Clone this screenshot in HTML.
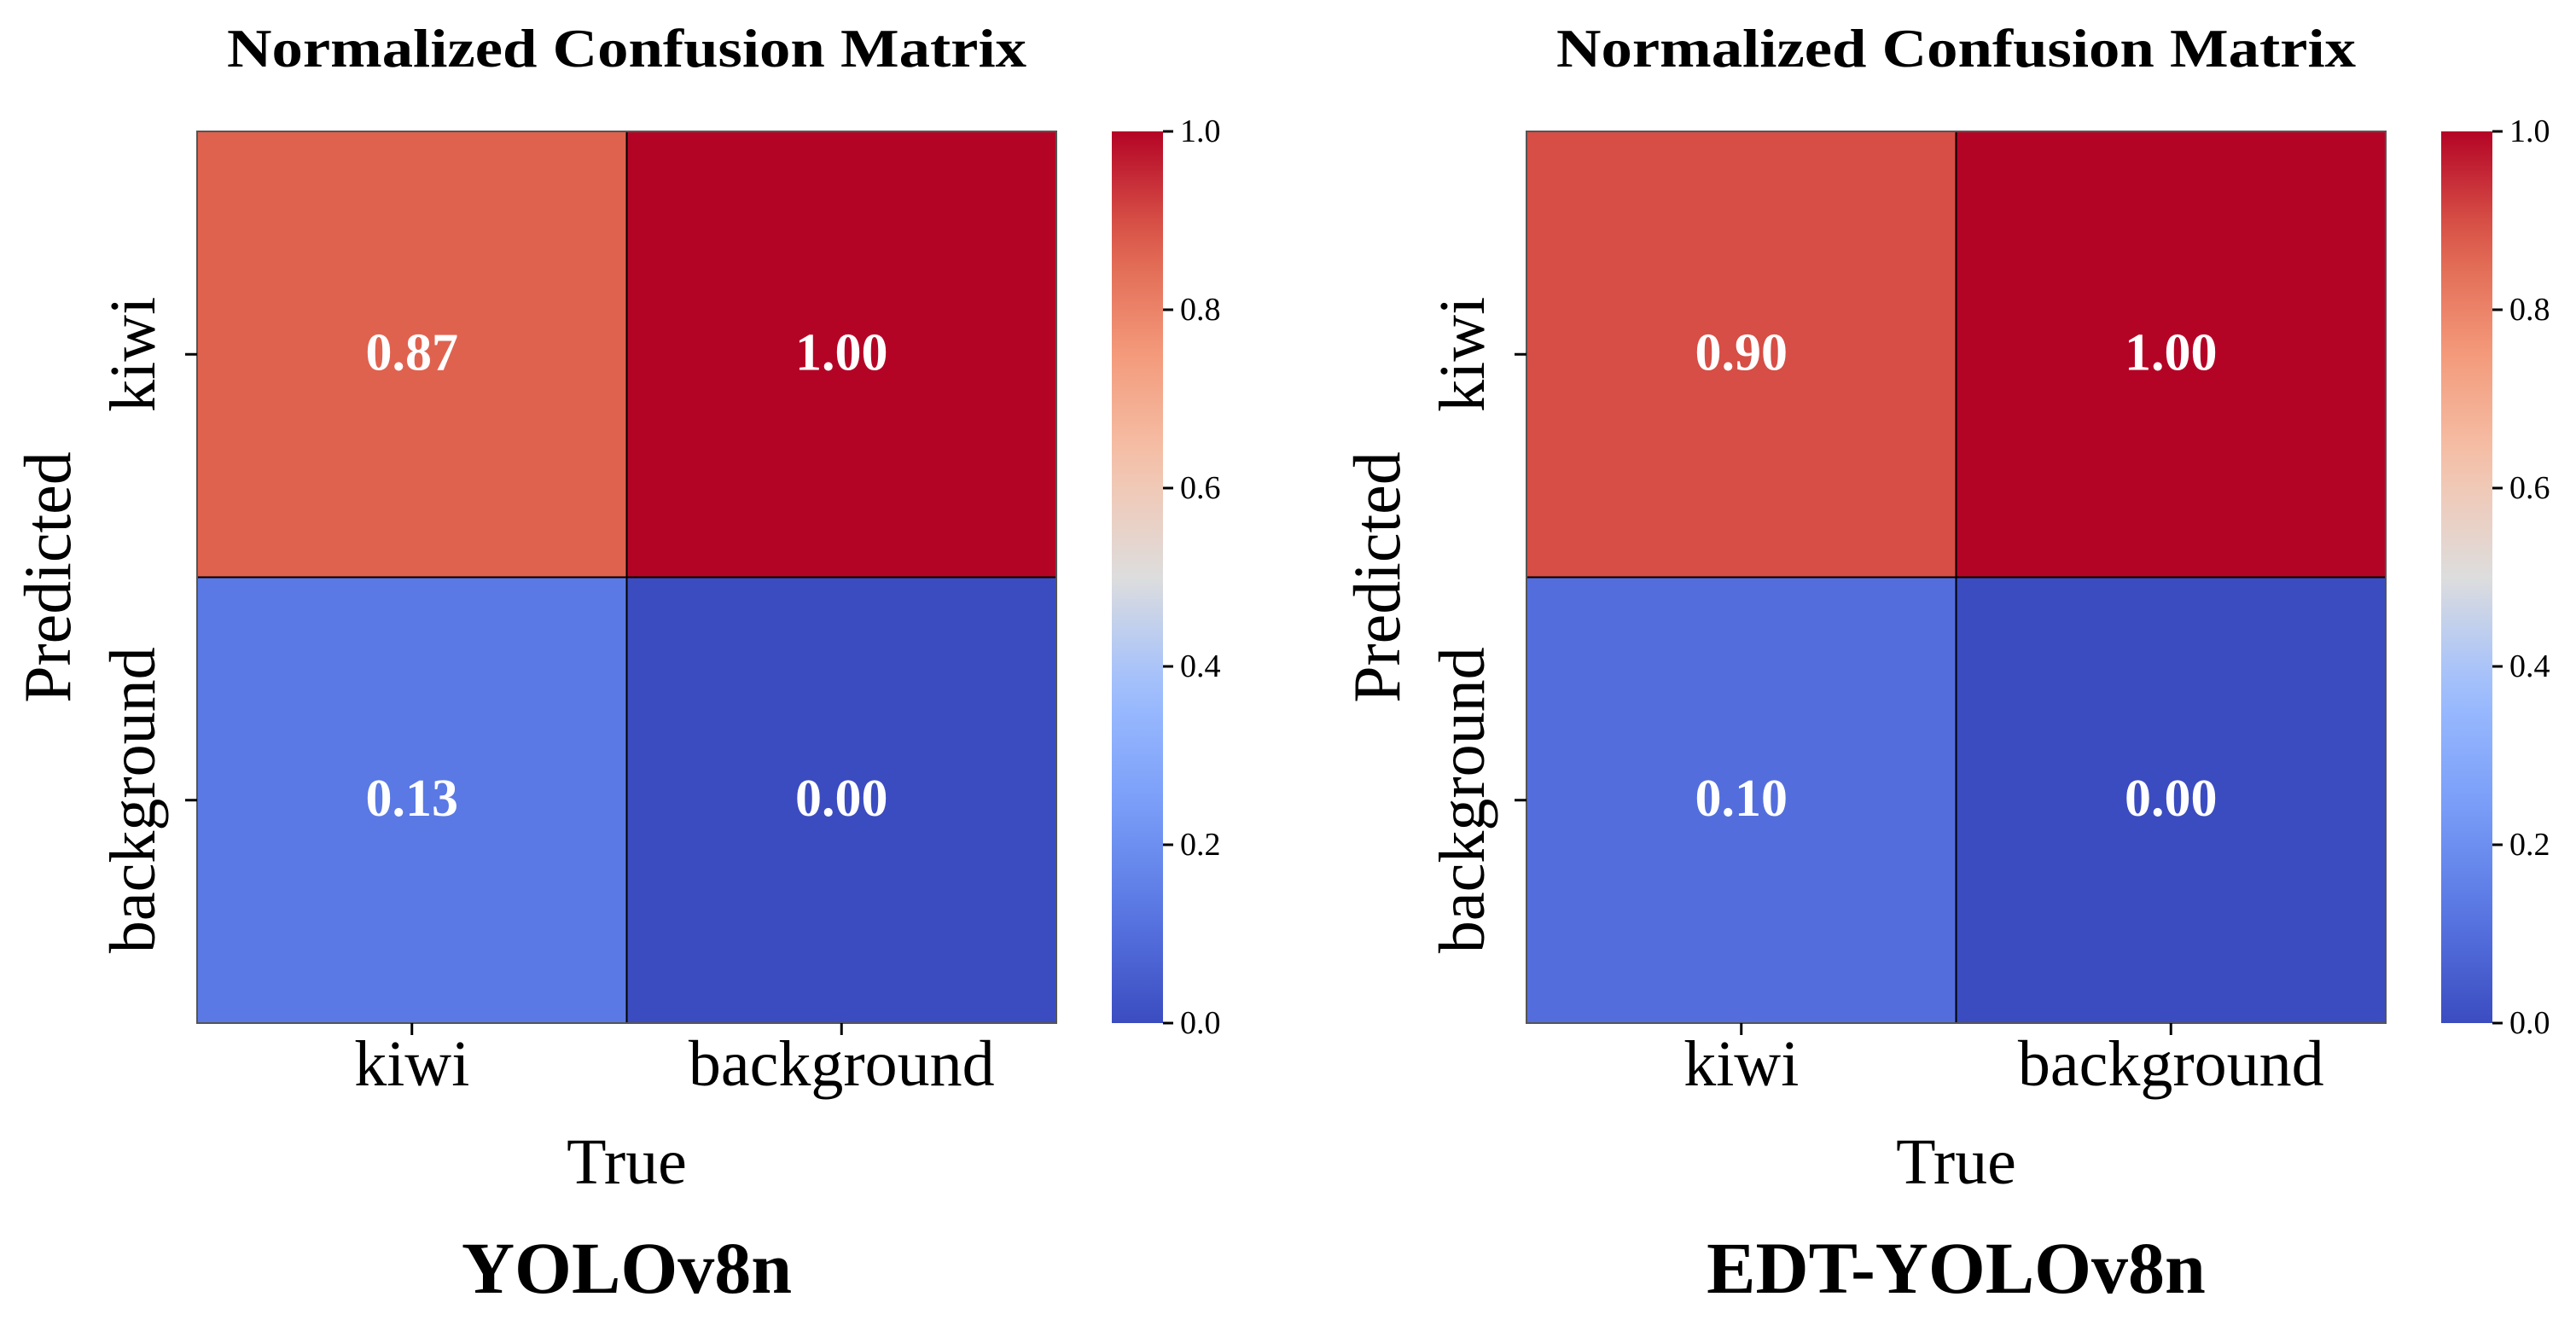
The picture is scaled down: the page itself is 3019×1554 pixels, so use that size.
<!DOCTYPE html>
<html><head><meta charset="utf-8"><style>
html,body{margin:0;padding:0;background:#fff;}
svg{display:block;font-family:"Liberation Serif",serif;}
</style></head><body>
<svg id="chart" width="3019" height="1554" viewBox="0 0 3019 1554"></svg>
<script>
const classLabels = ["kiwi", "background"];
const valuesA = [[0.87, 1.00], [0.13, 0.00]];
const valuesB = [[0.90, 1.00], [0.10, 0.00]];
const cbarTicks = [0.0, 0.2, 0.4, 0.6, 0.8, 1.0];
const panelNames = ["YOLOv8n", "EDT-YOLOv8n"];

const NS = "http://www.w3.org/2000/svg";
const svg = document.getElementById("chart");
const stops = [[0,[59,76,192]],[0.125,[89,119,227]],[0.25,[123,159,249]],[0.375,[158,190,255]],[0.5,[221,221,221]],[0.625,[245,196,173]],[0.75,[244,154,123]],[0.875,[222,96,77]],[1,[180,4,38]]];
function cmap(v){
  for(let i=0;i<stops.length-1;i++){
    const a=stops[i],b=stops[i+1];
    if(v<=b[0]){const t=(v-a[0])/(b[0]-a[0]);return "rgb("+a[1].map((c,k)=>Math.round(c+(b[1][k]-c)*t)).join(",")+")";}
  }
  return "rgb(180,4,38)";
}
function el(tag, attrs, parent){
  const e=document.createElementNS(NS,tag);
  for(const k in attrs) e.setAttribute(k,attrs[k]);
  (parent||svg).appendChild(e);return e;
}
const defs=el("defs",{});
const grad=el("linearGradient",{id:"cw",x1:"0",y1:"1",x2:"0",y2:"0"},defs);
for(let i=0;i<=20;i++){el("stop",{offset:(i/20),"stop-color":cmap(i/20)},grad);}

function panel(ox, vals, name){
  const L=231+ox, T=154, W=1007, H=1045;
  const cw=W/classLabels.length, ch=H/classLabels.length;
  const g=el("g",{});
  
  
  const title=el("text",{x:L+W/2,y:78,"text-anchor":"middle","font-size":"64","font-weight":"bold",textLength:"937",lengthAdjust:"spacingAndGlyphs"},g);
  title.textContent="Normalized Confusion Matrix";
  
  
  vals.forEach((row,r)=>row.forEach((v,c)=>{
    const rc=el("rect",{x:L+c*cw,y:T+r*ch,width:cw,height:ch,fill:cmap(v),stroke:"#000","stroke-width":"2"},g);
    
    
    const t=el("text",{x:L+(c+0.5)*cw,y:T+(r+0.5)*ch+18,"text-anchor":"middle","font-size":"62","font-weight":"bold",fill:"#fff"},g);
    t.textContent=v.toFixed(2);
    
    
  }));
  el("rect",{x:L,y:T,width:W,height:H,fill:"none",stroke:"#555","stroke-width":"2"},g);
  classLabels.forEach((lab,i)=>{
    const x=L+(i+0.5)*cw;
    el("line",{x1:x,y1:T+H,x2:x,y2:T+H+14,stroke:"#000","stroke-width":"3"},g);
    const t=el("text",{x:x,y:1272,"text-anchor":"middle","font-size":"76"},g);
    t.textContent=lab;
    
    
    const y=T+(i+0.5)*ch;
    el("line",{x1:L-14,y1:y,x2:L,y2:y,stroke:"#000","stroke-width":"3"},g);
    const t2=el("text",{x:0,y:0,"text-anchor":"middle","font-size":"76",transform:"translate("+(L-50)+","+y+") rotate(-90)"},g);
    t2.textContent=lab;
    
    
  });
  const xt=el("text",{x:L+W/2,y:1387,"text-anchor":"middle","font-size":"76"},g);
  xt.textContent="True";
  
  
  const yt=el("text",{x:0,y:0,"text-anchor":"middle","font-size":"78",transform:"translate("+(ox+82)+","+(T+H/2)+") rotate(-90)"},g);
  yt.textContent="Predicted";
  
  
  const CX=1303+ox, CW=60;
  const cb=el("rect",{x:CX,y:T,width:CW,height:H,fill:"url(#cw)"},g);
  
  
  cbarTicks.forEach(v=>{
    const y=T+H*(1-v);
    el("line",{x1:CX+CW,y1:y,x2:CX+CW+12,y2:y,stroke:"#000","stroke-width":"3"},g);
    const t=el("text",{x:CX+CW+20,y:y+12,"font-size":"38"},g);
    t.textContent=v.toFixed(1);
    
    
  });
  const cap=el("text",{x:L+W/2,y:1515,"text-anchor":"middle","font-size":"86","font-weight":"bold"},g);
  cap.textContent=name;
  
  
}
panel(0, valuesA, panelNames[0]);
panel(1558, valuesB, panelNames[1]);
</script>
</body></html>
